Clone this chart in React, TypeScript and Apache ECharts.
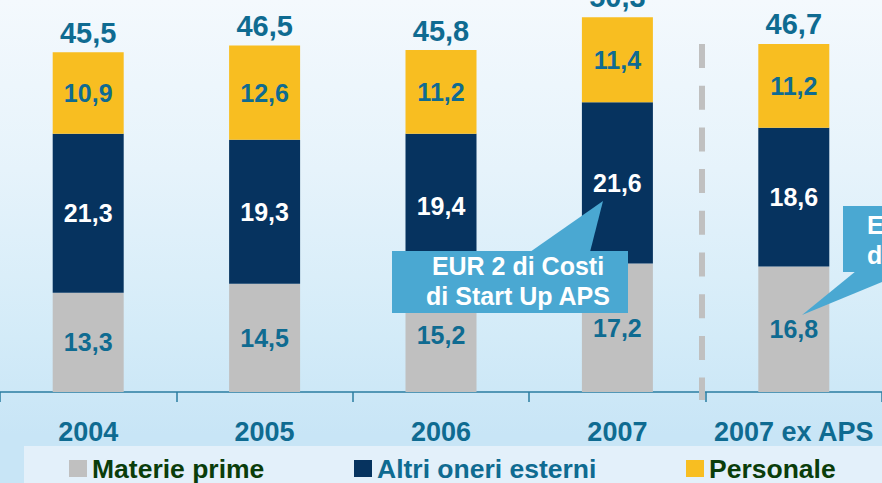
import React, { useEffect, useRef } from "react";
import * as echarts from "echarts";

const categories = ["2004", "2005", "2006", "2007", "2007 ex APS"];
const materiePrime = [13.3, 14.5, 15.2, 17.2, 16.8];
const altriOneri = [21.3, 19.3, 19.4, 21.6, 18.6];
const personale = [10.9, 12.6, 11.2, 11.4, 11.2];
const totals = [45.5, 46.5, 45.8, 50.3, 46.7];
const seriesNames = ["Materie prime", "Altri oneri esterni", "Personale"];
const calloutText = "EUR 2 di Costi\ndi Start Up APS";

const FONT = '"Liberation Sans", Arial, Helvetica, sans-serif';
const GRAY = "#c0c0c0";
const NAVY = "#06335f";
const YELLOW = "#f8be21";
const TEAL = "#0f6b91";
const GREEN = "#0a3d0a";
const CALLOUT = "#4aa8d2";

const fmt = (v: number) => v.toFixed(1).replace(".", ",");

export default function App() {
  const ref = useRef<HTMLDivElement>(null);
  useEffect(() => {
    if (!ref.current) return;
    const chart = echarts.init(ref.current, null, { renderer: "svg" });
    const innerLabel = (color: string) => ({
      show: true,
      position: "inside",
      color,
      fontFamily: FONT,
      fontWeight: "bold",
      fontSize: 25,
      formatter: (p: any) => fmt(p.value),
    });
    const legendBase = {
      top: 455,
      padding: 0,
      itemWidth: 18,
      itemHeight: 17,
      icon: "rect",
      selectedMode: false,
      textStyle: { fontFamily: FONT, fontWeight: "bold", fontSize: 26.5 },
    };
    chart.setOption({
      animation: false,
      backgroundColor: "transparent",
      grid: { left: -3, right: -1, top: 0, bottom: 91, containLabel: false },
      xAxis: {
        type: "category",
        data: categories,
        boundaryGap: true,
        axisLine: { show: true, lineStyle: { color: "#2a7ca0", width: 1.5 } },
        axisTick: { show: true, interval: 0, length: 10, lineStyle: { color: "#2a7ca0", width: 1.5 } },
        axisLabel: {
          interval: 0,
          margin: 26,
          color: TEAL,
          fontFamily: FONT,
          fontWeight: "bold",
          fontSize: 27,
        },
      },
      yAxis: { type: "value", min: 0, max: 52.5, show: false, splitLine: { show: false } },
      legend: [
        { ...legendBase, left: 69, data: [{ name: seriesNames[0], textStyle: { color: GREEN } }] },
        { ...legendBase, left: 354, data: [{ name: seriesNames[1], textStyle: { color: TEAL } }] },
        { ...legendBase, left: 686, data: [{ name: seriesNames[2], textStyle: { color: GREEN } }] },
      ],
      series: [
        {
          name: seriesNames[0],
          type: "bar",
          stack: "tot",
          barWidth: 71,
          data: materiePrime,
          itemStyle: { color: GRAY },
          label: innerLabel(TEAL),
        },
        {
          name: seriesNames[1],
          type: "bar",
          stack: "tot",
          barWidth: 71,
          data: altriOneri,
          itemStyle: { color: NAVY },
          label: innerLabel("#ffffff"),
        },
        {
          name: seriesNames[2],
          type: "bar",
          stack: "tot",
          barWidth: 71,
          data: personale,
          itemStyle: { color: YELLOW },
          label: innerLabel(TEAL),
        },
        {
          name: "Totale",
          type: "scatter",
          data: totals,
          symbolSize: 1,
          itemStyle: { color: "rgba(0,0,0,0)", opacity: 1 },
          label: {
            show: true,
            position: "top",
            distance: 4,
            color: TEAL,
            opacity: 1,
            fontFamily: FONT,
            fontWeight: "bold",
            fontSize: 29,
            formatter: (p: any) => fmt(p.value),
          },
          z: 5,
        },
      ],
      graphic: [
        {
          type: "rect",
          z: -1,
          shape: { x: 24, y: 446, width: 870, height: 40 },
          style: { fill: "#e3f0fa" },
        },
        {
          type: "line",
          z: 10,
          shape: { x1: 702, y1: 44, x2: 702, y2: 400 },
          style: { stroke: GRAY, lineWidth: 6, lineDash: [24, 17.7] },
        },
        {
          type: "polygon",
          z: 20,
          shape: { points: [[530, 252], [590, 252], [603, 201]] },
          style: { fill: CALLOUT },
        },
        {
          type: "rect",
          z: 20,
          shape: { x: 392, y: 251, width: 236, height: 62 },
          style: { fill: CALLOUT },
        },
        {
          type: "text",
          z: 21,
          x: 518,
          y: 281,
          style: {
            text: calloutText,
            fill: "#ffffff",
            font: `bold 25px ${FONT}`,
            align: "center",
            verticalAlign: "middle",
            lineHeight: 29.5,
          },
        },
        {
          type: "polygon",
          z: 20,
          shape: { points: [[856, 271], [909, 271], [802, 315]] },
          style: { fill: CALLOUT },
        },
        {
          type: "rect",
          z: 20,
          shape: { x: 843, y: 206, width: 236, height: 66 },
          style: { fill: CALLOUT },
        },
        {
          type: "text",
          z: 21,
          x: 867,
          y: 240,
          style: {
            text: calloutText,
            fill: "#ffffff",
            font: `bold 25px ${FONT}`,
            align: "left",
            verticalAlign: "middle",
            lineHeight: 29.5,
          },
        },
      ],
    });
    return () => chart.dispose();
  }, []);
  return (
    <div
      style={{
        position: "fixed",
        left: 0,
        top: 0,
        width: 882,
        height: 483,
        background:
          "linear-gradient(to bottom, #f4f9fd 0%, #e6f3fb 35%, #d3ebf8 70%, #c8e5f6 90%, #c8e5f6 100%)",
      }}
    >
      <div ref={ref} style={{ width: 882, height: 483 }} />
    </div>
  );
}
